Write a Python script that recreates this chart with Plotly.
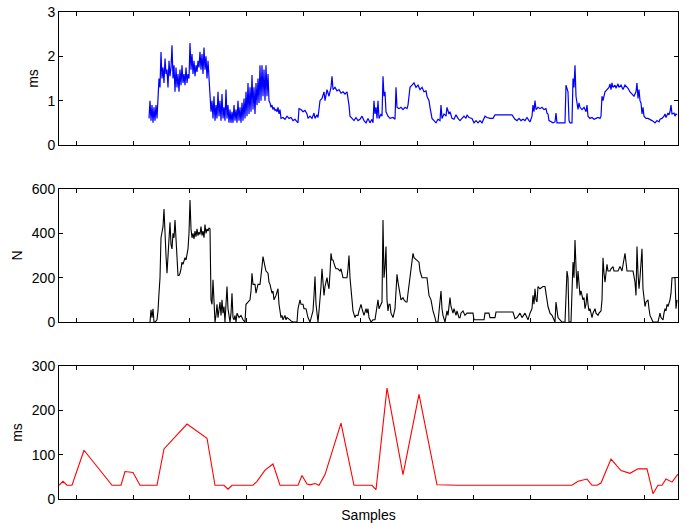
import plotly.graph_objects as go

# ---------------- data ----------------
# x positions are sample indices; axis spans 0..619 samples
X_RANGE = [0, 619]
X_TICK0 = 17.3
X_DTICK = 56.8

# top panel: delay (ms), blue
delay_x = [90,91,92,93,94,95,96,97,98,99,100,101,102,103,104,105,106,107,108,109,110,111,112,113,114,115,116,117,118,119,
           120,121,122,123,124,125,126,127,128,129,130,131,132,133,134,135,136,137,138,139,140,141,142,143,144,145,146,147,148,149,
           150,151,152,153,154,155,156,157,158,159,160,161,162,163,164,165,166,167,168,169,170,171,172,173,174,175,176,177,178,179,
           180,181,182,183,184,185,186,187,188,189,190,191,192,193,194,195,196,197,198,199,200,201,202,203,204,205,206,207,208,209,
           210,211,212,213,214,215,216,217,218,219,220,221,222,224,226,228,230,232,234,236,238,239,240,242,244,246,248,249,251,253,
           255,256,258,259,261,263,265,266,268,270,272,273,274,276,278,280,282,284,286,288,290,291,293,295,297,299,301,303,305,307,
           309,311,313,314,315,316,317,318,319,320,322,323,324,325,326,327,329,331,334,336,337,338,340,342,344,346,348,349,350,351,
           353,355,357,359,361,363,365,367,368,370,371,373,375,377,379,381,382,383,385,387,388,390,391,393,395,397,399,401,403,405,
           407,408,410,413,415,417,419,421,423,425,426,428,431,434,436,453,455,456,458,460,462,464,466,468,470,471,473,474,475,476,
           477,479,481,483,485,487,488,489,490,492,494,496,497,498,500,506,507,508,509,510,511,513,514,515,516,517,518,519,520,521,
           523,525,527,528,529,531,533,535,537,539,541,542,543,544,546,548,550,551,552,553,554,556,557,559,560,562,564,566,568,569,
           571,573,575,577,578,579,580,581,582,583,584,585,587,589,591,593,595,596,598,600,601,603,605,606,607,609,610,611,612,613,
           615,616,617,618]
delay_ms = [0.6,1.0,0.55,0.9,0.5,0.85,0.55,0.9,0.6,0.95,1.5,1.3,2.1,1.5,1.75,1.4,1.95,1.6,1.7,1.3,1.9,1.55,1.75,2.25,1.5,1.8,1.2,1.75,1.3,1.6,
            1.2,1.7,1.35,1.8,1.4,1.6,1.35,1.75,1.4,1.6,1.5,2.3,1.7,2.05,1.6,1.9,1.55,1.8,1.65,1.9,1.75,2.1,1.7,2.05,1.6,2.2,1.7,2.0,1.5,1.9,
            1.4,1.1,0.75,1.0,0.6,1.1,0.55,0.9,0.6,1.2,0.65,1.0,0.55,1.15,0.6,0.85,0.55,1.25,0.6,0.9,0.5,0.8,0.5,0.75,0.5,0.9,0.55,0.8,0.5,1.0,
            0.55,0.85,0.5,0.95,0.55,1.05,0.6,1.2,0.65,1.4,0.7,1.3,0.75,1.58,0.8,1.3,0.7,1.4,0.9,1.5,0.95,1.8,1.0,1.8,1.1,1.7,1.0,1.8,1.1,1.6,
            1.0,0.95,0.85,0.9,0.8,0.85,0.78,0.8,0.75,0.85,0.7,0.8,0.6,0.62,0.58,0.65,0.6,0.62,0.55,0.58,0.52,0.5,0.82,0.8,0.75,0.78,0.7,0.6,0.65,0.6,
            0.72,0.6,0.68,0.62,1.0,1.05,1.2,1.0,1.25,1.1,1.3,1.55,1.25,1.3,1.22,1.25,1.17,1.2,1.15,1.2,0.9,0.65,0.6,0.55,0.62,0.55,0.58,0.65,0.55,0.5,
            0.6,0.5,0.58,0.5,1.0,0.7,0.85,0.6,1.0,0.6,0.7,0.65,1.55,1.1,1.2,0.75,0.65,0.6,0.62,0.58,1.3,0.85,0.82,0.85,0.8,0.85,0.82,0.9,1.1,1.3,
            1.35,1.4,1.3,1.35,1.25,1.3,1.2,1.22,1.1,1.0,0.85,0.6,0.55,0.5,0.58,0.55,0.9,0.6,0.7,0.65,0.85,0.7,0.75,0.6,0.58,0.68,0.6,0.55,0.6,0.65,
            0.6,0.68,0.62,0.6,0.5,0.55,0.5,0.55,0.5,0.6,0.65,0.62,0.6,0.6,0.68,0.68,0.62,0.58,0.55,0.6,0.55,0.58,0.55,0.62,0.55,0.52,0.65,0.9,0.75,1.0,
            0.8,0.85,0.82,0.85,0.8,0.82,0.72,0.7,0.55,0.52,0.5,0.52,0.72,0.5,0.5,0.5,1.35,1.25,1.2,0.55,0.5,0.5,1.5,1.3,1.8,1.1,0.9,0.8,0.95,0.85,
            0.8,0.85,0.75,0.9,0.65,0.6,0.62,0.58,0.6,0.62,0.6,0.65,1.1,1.0,1.2,1.25,1.3,1.38,1.25,1.4,1.3,1.35,1.28,1.38,1.3,1.35,1.25,1.35,1.3,1.28,
            1.2,1.15,1.1,1.2,1.4,1.05,1.25,1.0,0.95,0.7,0.85,0.65,0.6,0.6,0.58,0.55,0.52,0.5,0.55,0.52,0.58,0.6,0.65,0.7,0.62,0.72,0.68,0.75,0.9,0.7,
            0.72,0.65,0.7,0.68]

# middle panel: N, black
n_x = [91,92,93,94,95,96,98,99,100,101,102,103,104,105,106,107,108,109,110,111,112,113,114,115,116,117,118,119,120,121,
       122,123,124,126,127,128,129,130,131,132,133,134,135,136,137,138,139,140,141,142,143,144,145,146,147,148,149,150,151,152,
       153,154,155,156,157,158,159,160,161,162,163,164,165,166,167,168,169,170,171,172,173,174,175,176,177,178,180,182,184,186,
       187,189,191,192,193,194,196,197,198,199,201,202,203,204,205,206,207,209,210,211,212,213,214,215,217,218,219,220,221,222,
       223,224,226,227,228,230,231,232,234,238,239,241,242,244,245,247,248,249,251,252,254,255,256,257,259,260,261,262,263,264,
       265,266,268,269,270,271,272,273,274,276,277,279,281,282,284,286,288,289,290,291,292,293,294,296,297,299,300,302,303,305,
       307,308,309,310,312,314,316,317,319,320,322,323,324,325,326,327,328,329,330,331,332,334,336,338,339,340,341,342,344,345,
       347,348,349,351,352,354,355,357,358,360,361,362,363,365,368,369,370,372,374,376,377,379,380,382,383,384,386,388,389,391,
       392,394,395,397,398,400,401,402,404,406,408,411,414,415,418,421,425,426,430,431,436,437,454,456,458,461,463,466,469,471,
       473,474,475,476,477,478,479,481,484,486,487,489,491,493,495,496,497,499,501,503,506,508,509,510,512,514,515,516,517,518,
       519,520,521,522,524,525,526,527,528,529,530,531,533,534,536,537,539,540,542,543,544,545,546,547,548,549,551,552,554,555,
       559,561,563,566,567,568,574,576,577,578,579,580,581,582,583,584,585,586,587,589,590,591,593,594,599,600,601,602,604,605,
       606,607,608,609,611,612,613,616,617,618]
n_count = [0,55,20,60,0,0,10,50,130,200,380,420,430,510,380,300,220,300,380,450,350,330,400,380,460,350,300,210,210,220,
           240,270,260,290,280,300,330,400,550,420,380,400,375,410,385,420,390,405,395,430,390,410,380,440,400,420,410,425,420,100,
           80,190,60,0,30,80,20,60,90,30,100,40,70,0,90,160,60,30,0,40,130,20,10,30,0,40,20,30,10,0,
           80,90,100,140,220,170,170,130,150,170,170,230,250,295,260,250,230,220,180,170,150,130,140,100,120,140,150,80,50,20,
           30,10,30,10,20,15,10,5,0,0,60,100,80,80,60,60,40,20,0,20,50,120,205,80,0,50,100,160,240,180,
           120,160,200,170,150,220,310,280,280,250,240,240,230,240,200,200,200,240,300,200,120,100,50,20,30,30,50,80,60,30,
           60,40,60,20,0,10,10,40,100,60,80,90,460,200,250,340,100,50,80,80,40,20,60,215,180,150,120,100,110,100,
           90,90,130,200,230,310,290,280,275,270,230,210,200,200,200,160,120,100,50,20,0,0,60,140,60,30,0,50,30,110,
           70,40,60,30,50,20,20,40,50,30,40,40,40,10,10,10,10,40,40,20,20,45,45,15,20,40,20,40,10,40,
           60,120,80,150,100,90,160,150,160,160,120,70,40,30,10,0,90,20,10,0,0,230,200,0,0,270,200,370,250,150,
           230,160,120,140,100,110,60,80,130,80,50,60,20,40,60,40,30,40,50,100,290,220,180,220,260,230,230,240,250,230,
           230,250,230,310,260,230,230,180,120,340,220,150,200,250,330,150,110,70,90,100,60,30,10,0,0,20,40,20,10,40,
           60,50,80,70,100,130,200,200,60,100]

# bottom panel: ms, red
rt_x = [0,4,8,13,25,53,62,66,74,81,98,105,128,148,156,165,169,173,194,198,206,214,221,239,243,248,251,256,260,266,
        282,295,313,317,328,344,360,378,400,430,460,490,513,519,528,533,538,542,552,562,571,579,588,594,599,603,607,613,619]
rt_ms = [31,40,31,31,110,31,31,62,60,31,31,113,169,137,31,31,22,31,31,40,65,79,31,31,53,34,32,35,31,55,
         171,31,31,21,250,55,236,32,31,31,31,31,31,40,45,31,31,36,90,64,58,68,68,12,31,31,45,38,56]

Y1_TICKS = [0, 1, 2, 3]
Y2_TICKS = [0, 200, 400, 600]
Y3_TICKS = [0, 100, 200, 300]

# ---------------- figure ----------------
FONT = "Liberation Sans, Arial, Helvetica, sans-serif"
fig = go.Figure()
fig.add_trace(go.Scatter(x=delay_x, y=delay_ms, mode="lines", line=dict(color="#0000ff", width=1.2),
                         xaxis="x", yaxis="y", showlegend=False))
fig.add_trace(go.Scatter(x=n_x, y=n_count, mode="lines", line=dict(color="#000000", width=1.1),
                         xaxis="x2", yaxis="y2", showlegend=False))
fig.add_trace(go.Scatter(x=rt_x, y=rt_ms, mode="lines", line=dict(color="#ff0000", width=1.1),
                         xaxis="x3", yaxis="y3", showlegend=False))

axis_common = dict(showline=True, mirror="ticks", linecolor="black", linewidth=1,
                   ticks="inside", ticklen=4, tickcolor="black", tickwidth=1,
                   showgrid=False, zeroline=False, automargin=False,
                   tickfont=dict(family=FONT, size=14, color="black"))

def xax(anchor, title=None):
    d = dict(axis_common, range=X_RANGE, tickmode="linear", tick0=X_TICK0, dtick=X_DTICK,
             showticklabels=False, anchor=anchor, domain=[0, 1])
    if title:
        d["title"] = dict(text=title, font=dict(family=FONT, size=14, color="black"), standoff=11)
    return d

def yax(anchor, dom, ticks, rng, title):
    return dict(axis_common, range=rng, tickvals=ticks, anchor=anchor, domain=dom,
                title=dict(text=title, font=dict(family=FONT, size=14, color="black"), standoff=5))

fig.update_layout(
    width=686, height=523,
    margin=dict(l=59, r=8, t=12, b=24),
    paper_bgcolor="white", plot_bgcolor="white",
    font=dict(family=FONT, color="black"),
    xaxis=xax("y"),
    xaxis2=xax("y2"),
    xaxis3=xax("y3", "Samples"),
    yaxis=yax("x", [0.7269, 1.0], Y1_TICKS, [0, 3], "ms"),
    yaxis2=yax("x2", [0.3634, 0.6366], Y2_TICKS, [0, 600], "N"),
    yaxis3=yax("x3", [0.0, 0.2731], Y3_TICKS, [0, 300], "ms"),
)

# remove the browser's default 8px page margin so the figure sits at (0, 0)
fig.write_html("out.html", config={"displayModeBar": False},
               post_script="document.body.style.margin='0px';")
